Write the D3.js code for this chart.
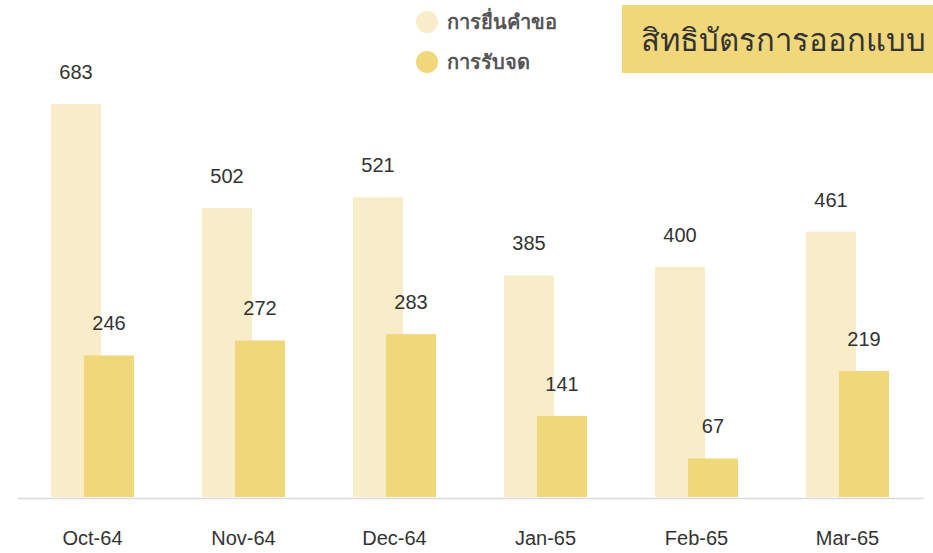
<!DOCTYPE html>
<html><head><meta charset="utf-8">
<script src="https://cdn.jsdelivr.net/npm/d3@7/dist/d3.min.js"></script>
<style>body{margin:0;background:#fff;} svg{display:block;font-family:"Noto Sans","Liberation Sans",Arial,sans-serif;}</style>
</head><body>
<svg id="c" width="933" height="553"></svg>
<script>
const categories = ["Oct-64","Nov-64","Dec-64","Jan-65","Feb-65","Mar-65"];
const applied = [683,502,521,385,400,461];
const granted = [246,272,283,141,67,219];
const seriesNames = ["การยื่นคำขอ","การรับจด"];
const title = "สิทธิบัตรการออกแบบ";
const colLight = "#f8edc8", colDark = "#f0d77a";
const numFont = "'Liberation Sans', Arial, sans-serif";

const svg = d3.select("#c");
const x = d3.scaleBand().domain(categories).range([17,923]).paddingInner(0.45).paddingOuter(0.225);
const y = d3.scaleLinear().domain([0,683]).range([497,104]);
const bw = 50, off = 33;

const g = svg.append("g");
categories.forEach((c,i)=>{
  const x0 = x(c);
  g.append("rect").attr("x",x0).attr("y",y(applied[i])).attr("width",bw).attr("height",y(0)-y(applied[i])).attr("fill",colLight);
  g.append("rect").attr("x",x0+off).attr("y",y(granted[i])).attr("width",bw).attr("height",y(0)-y(granted[i])).attr("fill",colDark);
  g.append("text").attr("x",x0+bw/2).attr("y",y(applied[i])-25).attr("text-anchor","middle").attr("font-size",20).attr("font-family",numFont).attr("fill","#333").text(applied[i]);
  g.append("text").attr("x",x0+off+bw/2).attr("y",y(granted[i])-25).attr("text-anchor","middle").attr("font-size",20).attr("font-family",numFont).attr("fill","#333").text(granted[i]);
});

// axis
const ax = svg.append("g").attr("transform","translate(0,498)").call(d3.axisBottom(x).tickSize(0).tickPadding(0));
ax.attr("font-family",numFont);
ax.select(".domain").attr("stroke","#d9d9d9").attr("stroke-width",1.5);
ax.selectAll("text").attr("font-size",20).attr("fill","#333").attr("dy",0).attr("y",47).attr("font-family",numFont);

// legend
const lg = svg.append("g");
[colLight,colDark].forEach((col,i)=>{
  lg.append("circle").attr("cx",427).attr("cy",22+40*i).attr("r",11).attr("fill",col);
  lg.append("text").attr("x",447).attr("y",29+40*i).attr("font-size",20).attr("font-weight","bold").attr("fill","#555").text(seriesNames[i]);
});

// title box
svg.append("rect").attr("x",622).attr("y",5).attr("width",311).attr("height",68).attr("fill",colDark);
svg.append("text").attr("x",641).attr("y",51).attr("font-size",31).attr("fill","#333").text(title);
</script>
</body></html>
